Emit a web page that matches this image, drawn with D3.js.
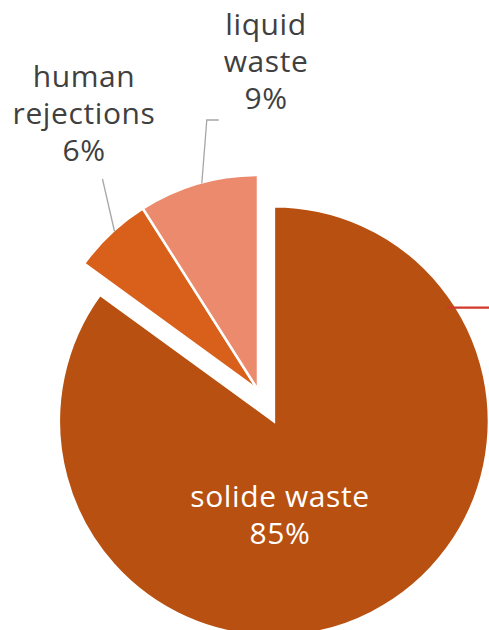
<!DOCTYPE html>
<html>
    <head>
        <meta charset="utf-8">
        <script src="https://d3js.org/d3.v7.min.js"></script>
        <style>
            body { margin: 0; background: #fff; }
            text { font-family: "Open Sans", sans-serif; font-size: 30px; letter-spacing: 0.6px; }
        </style>
    </head>
    <body>
        <div id="my_dataviz"></div>
        <script>
            // data
            const categories = ["solide waste", "human rejections", "liquid waste"];
            const shares = [85, 6, 9];
            const colors = ["#B75010", "#D9601A", "#EC8A6D"];

            const width = 489, height = 630;
            const cx = 258, cy = 390, radius = 215;

            // how far each slice is pulled out, and where the labels sit (relative to pie center)
            const explode = [35, 0, 0];
            const labelPos = [[22, 125], [-174, -276], [8, -328]];

            const svg = d3.select("#my_dataviz")
                .append("svg")
                    .attr("width", width)
                    .attr("height", height)
                .append("g")
                    .attr("transform", `translate(${cx},${cy})`);

            const data = categories.map((c, i) => ({name: c, value: shares[i], idx: i}));

            const pie = d3.pie().sort(null).value(d => d.value);
            const arc = d3.arc().innerRadius(0).outerRadius(radius);
            const arcs = pie(data);

            // point on a circle, angle measured clockwise from 12 o'clock
            const pt = (a, r) => [Math.sin(a) * r, -Math.cos(a) * r];

            const shift = d => pt((d.startAngle + d.endAngle) / 2, explode[d.data.idx]);

            svg.selectAll("path.slice")
                .data(arcs)
                .join("path")
                .attr("class", "slice")
                .attr("d", arc)
                .attr("transform", d => `translate(${shift(d)})`)
                .attr("fill", d => colors[d.data.idx])
                .attr("stroke", "#fff")
                .attr("stroke-width", 2.5)
                .attr("stroke-linejoin", "miter");

            // leader lines for the outside labels
            const human = arcs[1], liquid = arcs[2];
            const hA = human.startAngle + (human.endAngle - human.startAngle) * 0.55;
            const lA = liquid.startAngle + (liquid.endAngle - liquid.startAngle) * 0.53;
            const h0 = pt(hA, radius - 1);
            const l0 = pt(lA, radius - 1);
            const line = d3.line();
            svg.append("path")
                .attr("d", line([h0, [h0[0] - 12, labelPos[1][1] + 65]]))
                .attr("fill", "none").attr("stroke", "#A6A6A6").attr("stroke-width", 1.3);
            svg.append("path")
                .attr("d", line([l0, [l0[0] + 5, labelPos[2][1] + 58], [l0[0] + 17, labelPos[2][1] + 58]]))
                .attr("fill", "none").attr("stroke", "#A6A6A6").attr("stroke-width", 1.3);

            // red mark at the right edge of the big slice
            const solid = arcs[0];
            const s = shift(solid);
            const rA = 0.99;
            const r0 = pt(rA, radius - 8);
            svg.append("line")
                .attr("x1", r0[0] + s[0]).attr("y1", r0[1] + s[1])
                .attr("x2", width - cx).attr("y2", r0[1] + s[1])
                .attr("stroke", "#D0392A").attr("stroke-width", 2.2);

            // labels
            const labelLines = [["solide waste", "85%"], ["human", "rejections", "6%"], ["liquid", "waste", "9%"]];
            arcs.forEach(d => {
                const i = d.data.idx;
                const lines = labelLines[i];
                const t = svg.append("text")
                    .attr("text-anchor", "middle")
                    .attr("fill", i === 0 ? "#fff" : "#404040");
                const n = lines.length;
                lines.forEach((l, k) => {
                    t.append("tspan")
                        .attr("x", labelPos[i][0])
                        .attr("y", labelPos[i][1] + (k - (n - 1) / 2) * 37 + 10)
                        .text(l);
                });
            });
        </script>
    </body>
</html>
